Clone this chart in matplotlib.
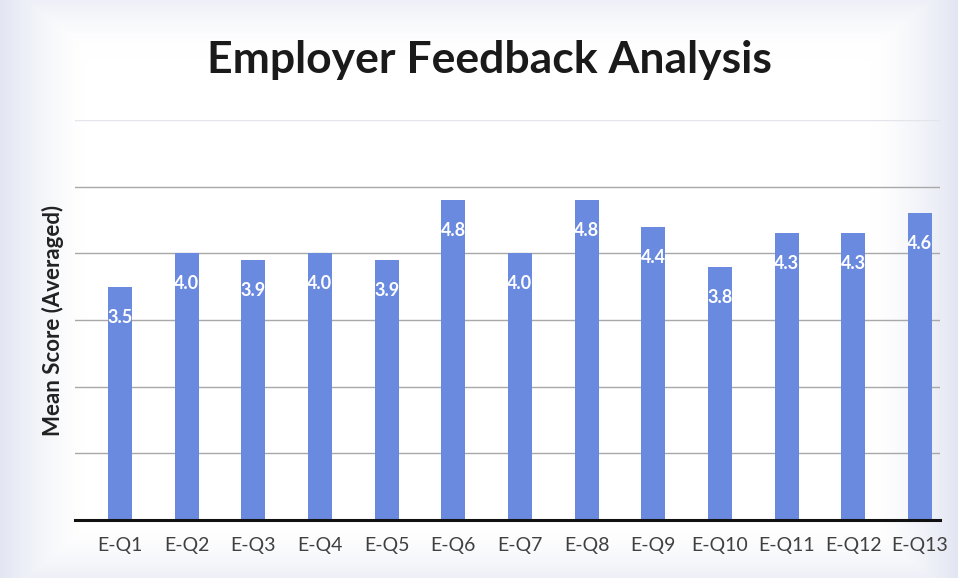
import numpy as np
import matplotlib
matplotlib.use("Agg")
import matplotlib.pyplot as plt

categories = ["E-Q1", "E-Q2", "E-Q3", "E-Q4", "E-Q5", "E-Q6", "E-Q7",
              "E-Q8", "E-Q9", "E-Q10", "E-Q11", "E-Q12", "E-Q13"]
scores = [3.5, 4.0, 3.9, 4.0, 3.9, 4.8, 4.0, 4.8, 4.4, 3.8, 4.3, 4.3, 4.6]
labels = ["3.5", "4.0", "3.9", "4.0", "3.9", "4.8", "4.0", "4.8", "4.4", "3.8", "4.3", "4.3", "4.6"]
grid_levels = [1, 2, 3, 4, 5]
top_level = 6

plt.rcParams['font.family'] = ['Lato', 'DejaVu Sans']

W, H = 958, 578
fig = plt.figure(figsize=(W / 100, H / 100), dpi=100)

# background vignette (scan look)
bg = fig.add_axes([0, 0, 1, 1], zorder=-10)
xx = np.linspace(0, 1, 400)
yy = np.linspace(0, 1, 240)
X, Y = np.meshgrid(xx, yy)
dx = np.minimum(X, 1 - X)
dy = np.minimum(Y, 1 - Y)
t = np.clip(1 - np.minimum(dx / 0.09, 1.0), 0, 1) ** 1.5
t = np.maximum(t, 0.6 * np.clip(1 - dy / 0.10, 0, 1) ** 2)
edge = np.array([0.89, 0.90, 0.95])
white = np.array([1.0, 1.0, 1.0])
img = white[None, None, :] * (1 - t[..., None]) + edge[None, None, :] * t[..., None]
bg.imshow(img, extent=[0, 1, 0, 1], aspect='auto', origin='lower')
bg.axis('off')

ax = fig.add_axes([75 / W, (H - 520) / H, 865 / W, 400 / H])
ax.set_facecolor('none')
x = np.arange(len(categories))
ax.bar(x, scores, width=0.36, color='#6a8ae0', zorder=2)
ax.set_ylim(0, top_level)
ax.set_xlim(-0.675, 12.3)
for g in grid_levels:
    ax.axhline(g, color='#a8a8a8', linewidth=1.0, zorder=0)
ax.axhline(top_level, color='#e4e4ea', linewidth=1.0, zorder=0)
ax.set_yticks([])
ax.tick_params(axis='x', length=0, pad=12, labelsize=14, labelcolor='#404040')
ax.set_xticks(x)
ax.set_xticklabels(categories)
for s in ['top', 'right', 'left']:
    ax.spines[s].set_visible(False)
ax.spines['bottom'].set_color('#111111')
ax.spines['bottom'].set_linewidth(2.2)
ax.spines['bottom'].set_zorder(3)

for xi, v, lab in zip(x, scores, labels):
    ax.annotate(lab, (xi, v), xytext=(0, -22), textcoords='offset points',
                ha='center', va='center', color='white', fontsize=13,
                fontweight='bold', zorder=4)

ax.set_ylabel("Mean Score (Averaged)", fontsize=16, fontweight='bold',
              color='#222222', labelpad=8)

fig.text(489 / W, 1 - 60 / H, "Employer Feedback Analysis", ha='center', va='center',
         fontsize=32, fontweight='bold', color='#1a1a1a')

fig.savefig("out.png", dpi=100)
